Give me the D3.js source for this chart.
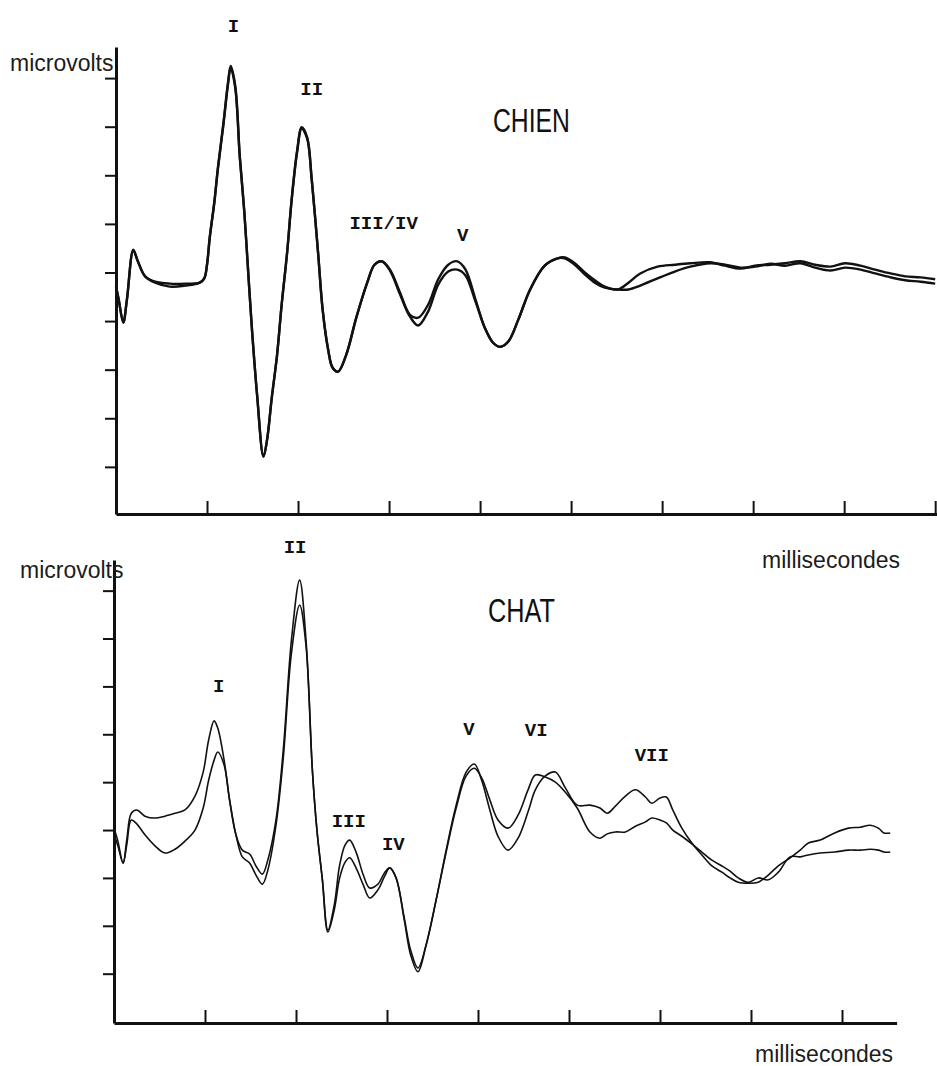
<!DOCTYPE html>
<html>
<head>
<meta charset="utf-8">
<script src="https://cdnjs.cloudflare.com/ajax/libs/d3/7.8.5/d3.min.js"></script>
<style>
body { margin: 0; background: #fff; }
svg { display: block; background: #fff; }
.axis path, .axis line { stroke: #111; }
.trace { fill: none; stroke: #111; stroke-linejoin: round; }
.axistitle { font-family: "Liberation Sans", Arial, sans-serif; font-size: 23px; fill: #1c1c1c; }
.species { font-family: "Liberation Sans Narrow", "Liberation Sans", sans-serif; font-size: 34px; fill: #111; }
.wave { font-family: "Liberation Mono", "DejaVu Sans Mono", monospace; font-weight: bold; font-size: 19px; fill: #111; }
</style>
</head>
<body>
<svg id="chart"></svg>
<script>
// CHIEN (dog) - two superimposed recordings, time in ms, amplitude in tick units
var chienTime = [0, 0.03, 0.08, 0.12, 0.19, 0.24, 0.32, 0.43, 0.59, 0.76,
    0.92, 0.97, 1.00, 1.03, 1.08, 1.12, 1.18, 1.23, 1.26, 1.31,
    1.36, 1.41, 1.45, 1.49, 1.55, 1.62, 1.66, 1.71, 1.77, 1.82,
    1.88, 1.93, 1.99, 2.04, 2.10, 2.15, 2.22, 2.27, 2.33, 2.38,
    2.44, 2.53, 2.64,
    2.76, 2.84, 2.92, 3.01, 3.12, 3.23, 3.32, 3.43, 3.54, 3.65,
    3.75, 3.84, 3.95, 4.05, 4.14, 4.22, 4.31, 4.42, 4.55, 4.71,
    4.85, 4.93, 5.04, 5.15, 5.26, 5.37, 5.51, 5.63, 5.76, 5.95,
    6.14, 6.31, 6.53, 6.69, 6.86, 7.02, 7.19, 7.35, 7.52, 7.68,
    7.85, 8.01, 8.18, 8.34, 8.51, 8.67, 8.84, 9.00];
var chienA = [-0.29, -0.56, -1.03, -0.56, 0.47, 0.23, -0.08, -0.19, -0.23, -0.23,
    -0.21, -0.12, 0.16, 0.72, 1.44, 2.16, 3.07, 3.90, 4.25, 3.84,
    2.39, 1.24, 0.08, -1.07, -2.52, -3.79, -3.44, -2.60, -1.69, -0.66,
    0.41, 1.51, 2.51, 2.99, 2.78, 1.92, 0.41, -0.76, -1.58, -1.96,
    -2.04, -1.69, -0.93,
    -0.21, 0.16, 0.23, 0.06, -0.41, -0.87, -0.93, -0.66, -0.14, 0.16,
    0.23, 0.06, -0.56, -1.13, -1.44, -1.53, -1.42, -0.97, -0.35, 0.14,
    0.29, 0.31, 0.19, 0.00, -0.16, -0.29, -0.35, -0.21, -0.02, 0.12,
    0.16, 0.19, 0.21, 0.14, 0.08, 0.14, 0.16, 0.19, 0.23, 0.16,
    0.12, 0.19, 0.14, 0.06, -0.02, -0.08, -0.10, -0.14];
var chienB = [-0.29, -0.56, -1.03, -0.56, 0.45, 0.23, -0.08, -0.21, -0.29, -0.27,
    -0.21, -0.12, 0.16, 0.72, 1.44, 2.14, 3.04, 3.86, 4.21, 3.80,
    2.37, 1.24, 0.08, -1.07, -2.52, -3.79, -3.44, -2.60, -1.69, -0.66,
    0.41, 1.49, 2.48, 2.96, 2.76, 1.92, 0.41, -0.76, -1.58, -1.96,
    -2.04, -1.69, -0.93,
    -0.21, 0.16, 0.23, 0.04, -0.45, -0.91, -1.09, -0.80, -0.25, 0.02,
    0.06, -0.06, -0.60, -1.13, -1.44, -1.53, -1.42, -0.97, -0.35, 0.14,
    0.29, 0.29, 0.16, -0.04, -0.21, -0.31, -0.35, -0.35, -0.27, -0.12,
    0.02, 0.12, 0.19, 0.16, 0.10, 0.12, 0.18, 0.14, 0.19, 0.10,
    0.04, 0.10, 0.06, -0.02, -0.10, -0.16, -0.19, -0.23];
var chienWaves = ["I", "II", "III/IV", "V"];
var chienWaveTime = [1.29, 2.15, 2.94, 3.81];
var chienWaveLevel = [4.95, 3.65, 0.89, 0.64];

// CHAT (cat)
var chatTime = [0.00, 0.04, 0.10, 0.14, 0.19, 0.25, 0.34, 0.45, 0.56, 0.67,
    0.78, 0.89, 0.98, 1.04, 1.10, 1.14, 1.21, 1.27, 1.34, 1.41,
    1.49, 1.56, 1.63, 1.69, 1.78, 1.86, 1.95, 2.04, 2.11, 2.18,
    2.23, 2.29, 2.35, 2.42, 2.48, 2.54, 2.59, 2.66, 2.74, 2.81,
    2.90, 2.97, 3.03, 3.10, 3.19, 3.26, 3.34, 3.43, 3.54, 3.65,
    3.76, 3.87, 3.96, 4.04, 4.13, 4.22, 4.33, 4.44, 4.55, 4.63,
    4.74, 4.85, 4.96, 5.09, 5.23, 5.34, 5.42, 5.51, 5.62, 5.73,
    5.84, 5.91, 6.00, 6.07, 6.14, 6.24, 6.35, 6.46, 6.57, 6.68,
    6.77, 6.86, 6.97, 7.08, 7.19, 7.30, 7.43, 7.54, 7.63, 7.76,
    7.92, 8.07, 8.20, 8.31, 8.40, 8.46, 8.53];
var chatA = [0.04, -0.21, -0.69, -0.21, 0.35, 0.42, 0.29, 0.25, 0.29, 0.35,
    0.42, 0.71, 1.21, 1.88, 2.28, 2.13, 1.46, 0.63, -0.10, -0.42,
    -0.50, -0.75, -0.92, -0.63, 0.21, 1.67, 3.97, 5.22, 3.97, 1.25,
    0.00, -1.04, -2.09, -1.57, -0.73, -0.31, -0.21, -0.46, -0.94, -1.21,
    -1.13, -0.90, -0.79, -1.00, -1.88, -2.61, -2.96, -2.40, -1.46, -0.42,
    0.52, 1.21, 1.38, 1.04, 0.42, -0.13, -0.42, -0.17, 0.38, 0.84,
    1.13, 1.21, 0.88, 0.52, 0.52, 0.46, 0.35, 0.50, 0.71, 0.84,
    0.69, 0.56, 0.67, 0.69, 0.42, 0.04, -0.27, -0.52, -0.75, -0.88,
    -1.00, -1.09, -1.11, -1.09, -0.94, -0.75, -0.58, -0.42, -0.27, -0.21,
    -0.06, 0.04, 0.06, 0.10, 0.04, -0.06, -0.06];
var chatB = [-0.10, -0.31, -0.69, -0.31, 0.21, 0.13, -0.10, -0.33, -0.48, -0.40,
    -0.23, 0.00, 0.46, 1.04, 1.46, 1.63, 1.36, 0.63, -0.10, -0.56,
    -0.69, -0.94, -1.13, -0.84, 0.10, 1.50, 3.70, 4.70, 3.85, 1.25,
    0.00, -1.04, -2.13, -1.67, -1.00, -0.67, -0.58, -0.79, -1.15, -1.42,
    -1.25, -0.98, -0.79, -1.00, -1.84, -2.51, -2.88, -2.40, -1.46, -0.46,
    0.46, 1.13, 1.29, 1.09, 0.63, 0.21, 0.04, 0.31, 0.84, 1.15,
    1.11, 1.00, 0.79, 0.46, -0.04, -0.17, -0.08, -0.04, -0.04, 0.08,
    0.17, 0.25, 0.21, 0.15, 0.00, -0.13, -0.29, -0.46, -0.63, -0.75,
    -0.86, -1.00, -1.09, -1.00, -1.04, -0.88, -0.56, -0.56, -0.52, -0.48,
    -0.46, -0.42, -0.42, -0.40, -0.42, -0.46, -0.46];
var chatWaves = ["I", "II", "III", "IV", "V", "VI", "VII"];
var chatWaveTime = [1.15, 1.99, 2.58, 3.07, 3.90, 4.64, 5.91];
var chatWaveLevel = [2.88, 5.78, 0.06, -0.42, 1.98, 1.96, 1.44];

var yTitle = "microvolts";
var xTitle = "millisecondes";

var svgWidth = 937;
var svgHeight = 1066;

var svg = d3.select("#chart")
    .attr("width", svgWidth)
    .attr("height", svgHeight);

function drawPanel(p) {
    var x = d3.scaleLinear().domain(p.xDomain).range(p.xRange);
    var y = d3.scaleLinear().domain(p.yDomain).range(p.yRange);
    var g = svg.append("g");

    var line = d3.line()
        .x(function(d) { return x(d[0]); })
        .y(function(d) { return y(d[1]); })
        .curve(d3.curveCatmullRom.alpha(0.5));

    p.traces.forEach(function(values) {
        g.append("path")
            .datum(d3.zip(p.time, values))
            .attr("class", "trace")
            .attr("stroke-width", p.lineWidth)
            .attr("d", line);
    });

    var yAxis = g.append("g")
        .attr("class", "axis")
        .attr("transform", "translate(" + p.xRange[0] + ",0)")
        .call(d3.axisLeft(y).tickValues(p.yTicks).tickSizeInner(11).tickSizeOuter(0).tickFormat(""));
    yAxis.select(".domain").attr("stroke-width", 3);
    yAxis.selectAll(".tick line").attr("stroke-width", 2);

    var xAxis = g.append("g")
        .attr("class", "axis")
        .attr("transform", "translate(0," + p.yRange[0] + ")")
        .call(d3.axisBottom(x).tickValues(p.xTicks).tickSizeInner(-13).tickSizeOuter(0).tickFormat(""));
    xAxis.select(".domain").attr("stroke-width", 3);
    xAxis.selectAll(".tick line").attr("stroke-width", 2);

    g.selectAll("text.wave")
        .data(p.waves)
        .enter().append("text")
        .attr("class", "wave")
        .attr("text-anchor", "middle")
        .attr("x", function(d, i) { return x(p.waveTime[i]); })
        .attr("y", function(d, i) { return y(p.waveLevel[i]); })
        .text(function(d) { return d; });

    g.append("text")
        .attr("class", "axistitle")
        .attr("x", p.yTitlePos[0])
        .attr("y", p.yTitlePos[1])
        .text(yTitle);

    g.append("text")
        .attr("class", "axistitle")
        .attr("x", p.xTitlePos[0])
        .attr("y", p.xTitlePos[1])
        .text(xTitle);

    g.append("text")
        .attr("class", "species")
        .attr("x", p.namePos[0])
        .attr("y", p.namePos[1])
        .attr("textLength", p.nameWidth)
        .attr("lengthAdjust", "spacingAndGlyphs")
        .text(p.name);
}

drawPanel({
    name: "CHIEN",
    time: chienTime,
    traces: [chienA, chienB],
    waves: chienWaves,
    waveTime: chienWaveTime,
    waveLevel: chienWaveLevel,
    xDomain: [0, 9.02],
    xRange: [116, 937],
    yDomain: [-4.97, 4.64],
    yRange: [514, 47],
    xTicks: d3.range(1, 10),
    yTicks: d3.range(-4, 5),
    lineWidth: 2.4,
    yTitlePos: [10, 71],
    xTitlePos: [762, 568],
    namePos: [493, 132],
    nameWidth: 77
});

drawPanel({
    name: "CHAT",
    time: chatTime,
    traces: [chatA, chatB],
    waves: chatWaves,
    waveTime: chatWaveTime,
    waveLevel: chatWaveLevel,
    xDomain: [0, 8.6],
    xRange: [114, 896.6],
    yDomain: [-4.03, 5.64],
    yRange: [1023, 560],
    xTicks: d3.range(1, 9),
    yTicks: d3.range(-3, 6),
    lineWidth: 1.6,
    yTitlePos: [20, 578],
    xTitlePos: [755, 1062],
    namePos: [488, 622],
    nameWidth: 67
});
</script>
</body>
</html>
